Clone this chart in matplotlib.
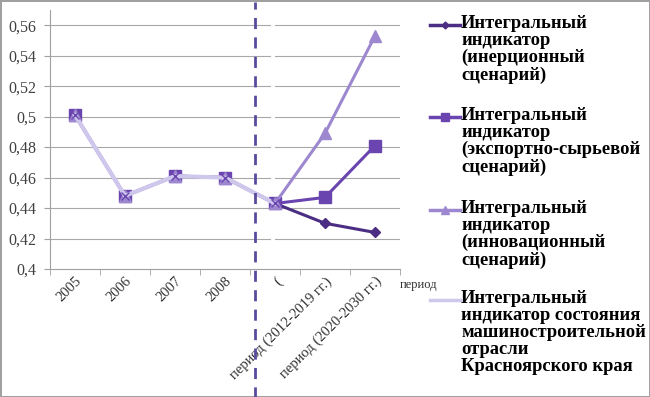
import matplotlib.pyplot as plt
from matplotlib.lines import Line2D
import numpy as np

# данные
categories = ["2005", "2006", "2007", "2008", "(",
              "период (2012-2019 гг.)", "период (2020-2030 гг.)"]
history = [0.501, 0.448, 0.461, 0.460, 0.443, None, None]
inertial = [0.501, 0.448, 0.461, 0.460, 0.443, 0.430, 0.424]
export = [0.501, 0.448, 0.461, 0.460, 0.443, 0.447, 0.481]
innovation = [0.501, 0.448, 0.461, 0.460, 0.443, 0.489, 0.553]
yticks = [0.40, 0.42, 0.44, 0.46, 0.48, 0.50, 0.52, 0.54, 0.56]
ytick_labels = ["0,4", "0,42", "0,44", "0,46", "0,48", "0,5", "0,52", "0,54", "0,56"]

labels = ["Интегральный\nиндикатор\n(инерционный\nсценарий)",
          "Интегральный\nиндикатор\n(экспортно-сырьевой\nсценарий)",
          "Интегральный\nиндикатор\n(инновационный\nсценарий)",
          "Интегральный\nиндикатор состояния\nмашиностроительной\nотрасли\nКрасноярского края"]

plt.rcParams['font.family'] = ['Liberation Serif', 'DejaVu Serif']

fig = plt.figure(figsize=(6.5, 3.97), dpi=100)
fig.patch.set_edgecolor('#a0a0a0')
fig.patch.set_linewidth(2)
ax = fig.add_axes([50/650, 1-269/397, 350/650, 259/397])

x = np.arange(len(categories))
hist = np.array([np.nan if v is None else v for v in history], dtype=float)

# сетка с разрывом около пунктирной линии
split = 3.6
for yv in yticks[1:]:
    ax.plot([-0.5, 3.9], [yv, yv], color='#a8a8a8', lw=0.8, zorder=0)
    ax.plot([4.0, 6.5], [yv, yv], color='#a8a8a8', lw=0.8, zorder=0)

c_in, c_ex, c_nv, c_hi = '#4b2e83', '#6a45b0', '#9d88d0', '#cfc7ec'
ax.plot(x, inertial, color=c_in, lw=2.2, marker='D', ms=5, zorder=3)
ax.plot(x, export, color=c_ex, lw=2.2, marker='s', ms=8, zorder=3)
ax.plot(x, innovation, color=c_nv, lw=2.2, marker='^', ms=8, zorder=3)
ax.plot(x, hist, color=c_hi, lw=3, marker='x', ms=6, mec=c_ex, zorder=4)

ax.set_xlim(-0.5, 6.5)
ax.set_ylim(0.4, 0.57)
ax.set_yticks(yticks)
ax.set_yticklabels(ytick_labels, fontsize=11.5, color='#404040')
ax.set_xticks(x)
ax.set_xticklabels(categories, rotation=45, ha='right', rotation_mode='anchor',
                   fontsize=10.5, color='#303030')
ax.set_xticks(np.arange(-0.5, 7, 1), minor=True)
ax.tick_params(axis='x', which='major', length=0, pad=4)
ax.tick_params(axis='x', which='minor', length=4, color='#a0a0a0')
ax.tick_params(axis='y', length=4, color='#a0a0a0', pad=6)
for s in ['top', 'right']:
    ax.spines[s].set_visible(False)
for s in ['left', 'bottom']:
    ax.spines[s].set_color('#a0a0a0')

ax.text(1.0, -0.04, "период", transform=ax.transAxes, fontsize=9,
        color='#303030', ha='left', va='top')

# вертикальная пунктирная линия
tr = ax.get_xaxis_transform()
ax.plot([split, split], [-0.6, 1.03], transform=tr, clip_on=False,
        color='#5a4a9c', lw=2, ls=(0, (4, 3)), zorder=5)

# легенда
handles = [(c_in, 'D', 5), (c_ex, 's', 8), (c_nv, '^', 8), (c_hi, None, 0)]
ys = [25, 117, 210, 300]
for (col, mk, ms), lab, yp in zip(handles, labels, ys):
    yf = 1 - yp/397
    fig.add_artist(Line2D([430/650, 445/650, 460/650], [yf, yf, yf], color=col,
                          lw=2.5, marker=mk, ms=ms*0.7,
                          markevery=[1] if mk else None))
    fig.text(461/650, yf + 10/397, lab, fontsize=13.3, fontweight='bold',
             family='Liberation Serif', va='top', ha='left', linespacing=1.0)

fig.savefig('out.png', dpi=100)
